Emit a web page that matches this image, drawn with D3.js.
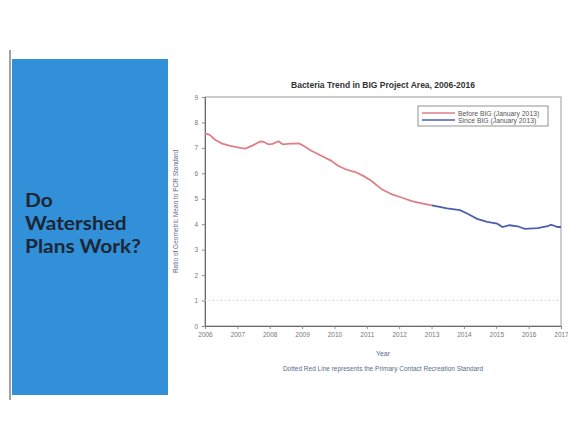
<!DOCTYPE html>
<html>
<head>
<meta charset="utf-8">
<script src="https://cdn.jsdelivr.net/npm/d3@7"></script>
<style>
html, body { margin: 0; padding: 0; background: #fff; }
svg { display: block; }
</style>
</head>
<body>
<svg id="slide" width="568" height="436"></svg>
<script>
width = 568;
height = 436;

// chart data
yearTicks = [2006, 2007, 2008, 2009, 2010, 2011, 2012, 2013, 2014, 2015, 2016, 2017];
valueTicks = [0, 1, 2, 3, 4, 5, 6, 7, 8, 9];
beforeYears = [2006.00, 2006.16, 2006.31, 2006.53, 2006.78, 2007.09, 2007.25, 2007.46, 2007.71, 2007.81,
	2007.96, 2008.09, 2008.27, 2008.40, 2008.65, 2008.90, 2009.02, 2009.27, 2009.58, 2009.89,
	2010.11, 2010.36, 2010.67, 2010.89, 2011.14, 2011.45, 2011.76, 2012.07, 2012.39, 2012.70, 2013.01];
beforeValues = [7.58, 7.50, 7.32, 7.17, 7.08, 7.00, 6.97, 7.09, 7.25, 7.24,
	7.14, 7.16, 7.26, 7.14, 7.17, 7.18, 7.10, 6.90, 6.70, 6.50,
	6.30, 6.15, 6.04, 5.90, 5.71, 5.38, 5.18, 5.05, 4.91, 4.82, 4.74];
sinceYears = [2013.01, 2013.48, 2013.88, 2014.10, 2014.41, 2014.72, 2015.03, 2015.19, 2015.41,
	2015.66, 2015.88, 2016.28, 2016.59, 2016.69, 2016.90, 2017.00];
sinceValues = [4.74, 4.62, 4.55, 4.42, 4.21, 4.09, 4.02, 3.89, 3.96,
	3.92, 3.82, 3.85, 3.92, 3.98, 3.89, 3.89];
standardValue = 1;
legendLabels = ['Before BIG (January 2013)', 'Since BIG (January 2013)'];
seriesColors = ['#de7f88', '#4b5fae'];

svg = d3.select('#slide');

// blue side panel with the slide question
svg.append('rect')
	.attr('x', 12).attr('y', 59)
	.attr('width', 156).attr('height', 336)
	.attr('fill', '#3190d7');
svg.append('line')
	.attr('x1', 10).attr('x2', 10).attr('y1', 50).attr('y2', 400)
	.attr('stroke', '#444').attr('stroke-width', 1);
const qG = svg.append('g').attr('transform', 'translate(25,207) scale(1.1,1)');
['Do', 'Watershed', 'Plans Work?'].forEach((t, i) => {
	qG.append('text')
		.attr('x', 0).attr('y', i * 23)
		.attr('font-family', 'Lato, "Open Sans", sans-serif')
		.attr('font-weight', 'bold')
		.attr('font-size', 19)
		.attr('fill', '#1c2636')
		.text(t);
});

// plot frame
const plotLeft = 205, plotRight = 561, plotTop = 97, plotBottom = 326;
x = d3.scaleLinear().domain([2006, 2017]).range([plotLeft, plotRight]);
y = d3.scaleLinear().domain([0, 9]).range([plotBottom, plotTop]);

const font = '"Liberation Sans", Arial, sans-serif';
const g = svg.append('g').attr('font-family', font);

g.append('rect')
	.attr('x', plotLeft).attr('y', plotTop)
	.attr('width', plotRight - plotLeft).attr('height', plotBottom - plotTop)
	.attr('fill', 'none').attr('stroke', '#9a9a9a').attr('stroke-width', 1);

const yAxis = g.append('g')
	.attr('transform', `translate(${plotLeft},0)`)
	.call(d3.axisLeft(y).tickValues(valueTicks).tickSize(3).tickPadding(4));
const xAxis = g.append('g')
	.attr('transform', `translate(0,${plotBottom})`)
	.call(d3.axisBottom(x).tickValues(yearTicks).tickFormat(d3.format('d')).tickSize(3).tickPadding(3));
[yAxis, xAxis].forEach(a => {
	a.select('.domain').attr('stroke', '#6b6b6b');
	a.selectAll('.tick line').attr('stroke', '#8a8a8a');
	a.selectAll('.tick text').attr('fill', '#777').attr('font-size', 6.5).attr('font-family', font);
});

// dotted standard line
g.append('line')
	.attr('x1', plotLeft).attr('x2', plotRight)
	.attr('y1', y(standardValue)).attr('y2', y(standardValue))
	.attr('stroke', '#e9b8bd').attr('stroke-width', 1)
	.attr('stroke-dasharray', '1,3');

const line = d3.line().x(d => x(d[0])).y(d => y(d[1]));
g.append('path')
	.datum(d3.zip(beforeYears, beforeValues))
	.attr('d', line)
	.attr('fill', 'none').attr('stroke', seriesColors[0]).attr('stroke-width', 1.8);
g.append('path')
	.datum(d3.zip(sinceYears, sinceValues))
	.attr('d', line)
	.attr('fill', 'none').attr('stroke', seriesColors[1]).attr('stroke-width', 1.8);

// legend
const lg = g.append('g').attr('transform', 'translate(418,106)');
lg.append('rect').attr('width', 130).attr('height', 20)
	.attr('fill', '#fff').attr('stroke', '#777').attr('stroke-width', 0.8);
legendLabels.forEach((t, i) => {
	lg.append('line')
		.attr('x1', 4).attr('x2', 37)
		.attr('y1', 7 + i * 7).attr('y2', 7 + i * 7)
		.attr('stroke', seriesColors[i]).attr('stroke-width', 1.5);
	lg.append('text')
		.attr('x', 40).attr('y', 9.5 + i * 7)
		.attr('font-size', 6.8).attr('fill', '#555')
		.text(t);
});

// titles
g.append('text')
	.attr('x', (plotLeft + plotRight) / 2).attr('y', 88)
	.attr('text-anchor', 'middle')
	.attr('font-size', 8.5).attr('font-weight', 'bold').attr('fill', '#333')
	.text('Bacteria Trend in BIG Project Area, 2006-2016');
g.append('text')
	.attr('x', (plotLeft + plotRight) / 2).attr('y', 356)
	.attr('text-anchor', 'middle')
	.attr('font-size', 7).attr('fill', '#5d6c8c')
	.text('Year');
g.append('text')
	.attr('x', (plotLeft + plotRight) / 2).attr('y', 371)
	.attr('text-anchor', 'middle')
	.attr('font-size', 6.5).attr('fill', '#5d6c8c')
	.text('Dotted Red Line represents the Primary Contact Recreation Standard');
g.append('text')
	.attr('transform', `translate(178,${(plotTop + plotBottom) / 2}) rotate(-90)`)
	.attr('text-anchor', 'middle')
	.attr('font-size', 6.5).attr('fill', '#5d6c8c')
	.text('Ratio of Geometric Mean to PCR Standard');
</script>
</body>
</html>
